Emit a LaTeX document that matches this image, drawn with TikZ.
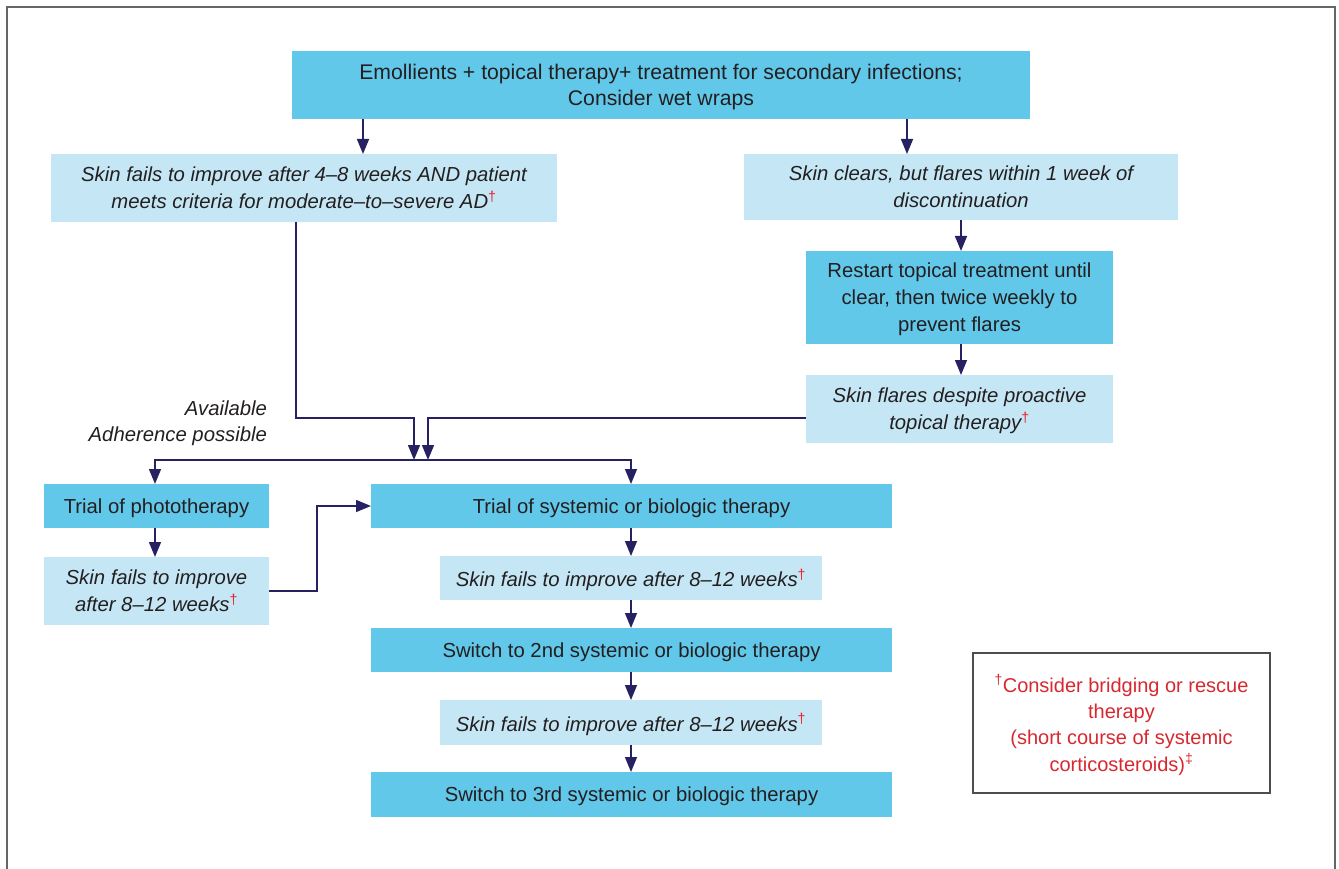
\documentclass[tikz,border=0pt]{standalone}
\usepackage{fontspec}
\setmainfont{Liberation Sans}
\usetikzlibrary{arrows.meta,calc}
\definecolor{darkbox}{HTML}{62C8EA}
\definecolor{lightbox}{HTML}{C5E7F5}
\definecolor{txt}{HTML}{231F20}
\definecolor{arrowc}{HTML}{262262}
\definecolor{daggerred}{HTML}{ED1C24}
\definecolor{notered}{HTML}{D7282F}
\definecolor{framec}{HTML}{666666}
\definecolor{noteframe}{HTML}{4D4D4D}
\newcommand{\dg}{\textsuperscript{\upshape\color{daggerred}†}}
\begin{document}
\begin{tikzpicture}[x=1pt,y=-1pt,
  font=\fontsize{20.3}{27}\selectfont,
  boxbase/.style={inner sep=0pt,outer sep=0pt,align=center,text=txt,draw=none,text depth=0pt},
  darkb/.style={boxbase,fill=darkbox,text depth=-4pt},
  lightb/.style={boxbase,fill=lightbox,text depth=-4pt,font=\fontsize{20.3}{27}\selectfont\itshape},
  arr/.style={draw=arrowc,line width=1.5pt,-{Triangle[width=12pt,length=15pt]}},
  conn/.style={draw=arrowc,line width=1.5pt}]
\useasboundingbox (0,0) rectangle (1339,869);
\draw[framec,line width=1.6pt] (7,900) -- (7,7) -- (1335,7) -- (1335,900);

\node[darkb,minimum width=738pt,minimum height=68pt,font=\fontsize{21.2}{26}\selectfont] (top) at (661,85)
  {Emollients + topical therapy+ treatment for secondary infections;\\Consider wet wraps};
\node[lightb,minimum width=506pt,minimum height=68pt] (b2) at (304,188)
  {Skin fails to improve after 4–8 weeks AND patient\\meets criteria for moderate–to–severe AD\dg};
\node[lightb,minimum width=434pt,minimum height=66pt] (b3) at (961,187)
  {Skin clears, but flares within 1 week of\\discontinuation};
\node[darkb,minimum width=307pt,minimum height=93pt] (b4) at (959.5,297.5)
  {Restart topical treatment until\\clear, then twice weekly to\\prevent flares};
\node[lightb,minimum width=307pt,minimum height=68pt] (b5) at (959.5,409)
  {Skin flares despite proactive\\topical therapy\dg};
\node[boxbase,anchor=east,font=\fontsize{20.3}{26}\selectfont\itshape,align=right] (lab) at (267,421)
  {Available\\Adherence possible};
\node[darkb,minimum width=225pt,minimum height=44pt] (photo) at (156.5,506)
  {Trial of phototherapy};
\node[lightb,minimum width=225pt,minimum height=68pt] (photofail) at (156.5,591)
  {Skin fails to improve\\after 8–12 weeks\dg};
\node[darkb,minimum width=521pt,minimum height=44pt] (sys1) at (631.5,506)
  {Trial of systemic or biologic therapy};
\node[lightb,minimum width=382pt,minimum height=44pt] (f1) at (631,578)
  {Skin fails to improve after 8–12 weeks\dg};
\node[darkb,minimum width=521pt,minimum height=44pt] (sys2) at (631.5,650)
  {Switch to 2nd systemic or biologic therapy};
\node[lightb,minimum width=382pt,minimum height=45pt] (f2) at (631,722.5)
  {Skin fails to improve after 8–12 weeks\dg};
\node[darkb,minimum width=521pt,minimum height=45pt] (sys3) at (631.5,794.5)
  {Switch to 3rd systemic or biologic therapy};
\node[boxbase,draw=noteframe,line width=2.6pt,minimum width=297pt,minimum height=140pt,
  text=notered,font=\fontsize{20}{26.3}\selectfont] (note) at (1121.5,723)
  {\textsuperscript{†}Consider bridging or rescue\\therapy\\(short course of systemic\\corticosteroids)\textsuperscript{‡}};

% connectors
\draw[arr] (top.south -| 363,0) -- (b2.north -| 363,0);
\draw[arr] (top.south -| 907,0) -- (b3.north -| 907,0);
\draw[arr] (b3.south -| 961,0) -- (b4.north -| 961,0);
\draw[arr] (b4.south -| 961,0) -- (b5.north -| 961,0);
\coordinate (jl) at (414,460);
\coordinate (jr) at (428,460);
\draw[arr] (b2.south -| 296,0) |- (414,418) -- (jl);
\draw[arr] (b5.west |- 0,418) -| (jr);
\draw[conn] (155,460) -- (631,460);
\draw[arr] (jl) -| (photo.north -| 155,0);
\draw[arr] (jl) -| (sys1.north -| 631,0);
\draw[arr] (photo.south -| 155,0) -- (photofail.north -| 155,0);
\draw[arr] (photofail.east |- 0,591) -| (317,506) -- (sys1.west);
\draw[arr] (sys1.south -| 631,0) -- (f1.north -| 631,0);
\draw[arr] (f1.south -| 631,0) -- (sys2.north -| 631,0);
\draw[arr] (sys2.south -| 631,0) -- (f2.north -| 631,0);
\draw[arr] (f2.south -| 631,0) -- (sys3.north -| 631,0);
\end{tikzpicture}
\end{document}
